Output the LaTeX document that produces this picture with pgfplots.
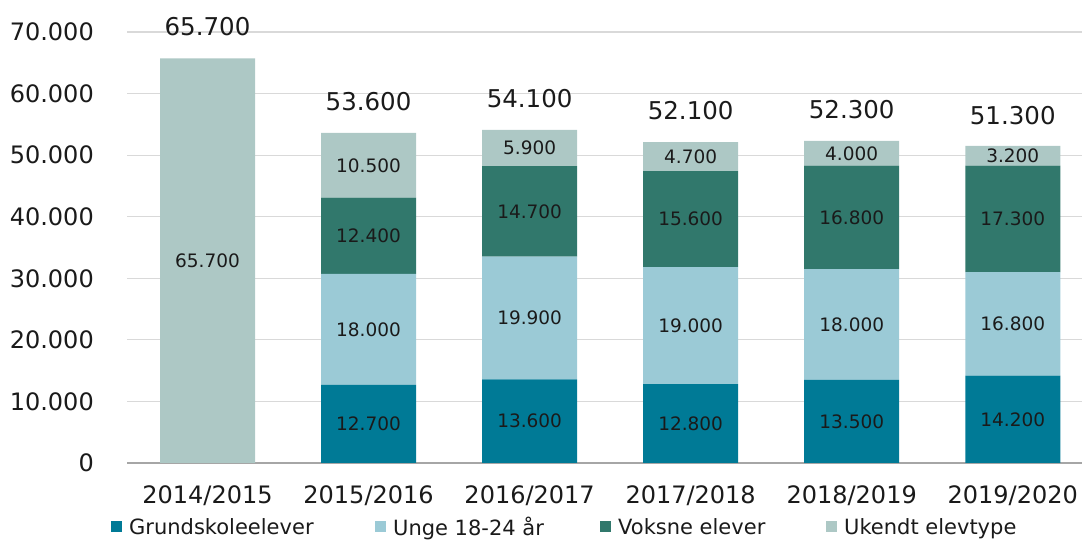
\documentclass[border=0pt]{standalone}
\usepackage{pgfplots}
\pgfplotsset{compat=1.18}
\usepackage{fontspec}
\setmainfont{DejaVu Sans}
\definecolor{cA}{HTML}{007A96}
\definecolor{cB}{HTML}{9BCAD6}
\definecolor{cC}{HTML}{31786C}
\definecolor{cD}{HTML}{ADC8C5}
\definecolor{gridc}{HTML}{D9D9D9}
\definecolor{axc}{HTML}{A6A6A6}
\definecolor{txt}{HTML}{1A1A1A}
% values in thousands
\pgfplotsset{
  common/.style={
    at={(127pt,77pt)}, anchor=south west,
    scale only axis, width=955pt, height=431pt,
    xmin=-0.5, xmax=5.43, ymin=0, ymax=70,
    enlargelimits=false, clip=false,
    /pgf/number format/assume math mode=true,
  },
  legimg/.style={legend image code/.code={\fill[#1] (0pt,-5.5pt) rectangle (11pt,5.5pt); \path (18pt,0pt);}},
}
\begin{document}
\begin{tikzpicture}
\useasboundingbox (0,0) rectangle (1082pt,540pt);
\begin{axis}[
  common,
  ybar stacked, bar width=95pt,
  xtick={0,1,2,3,4,5},
  xticklabels={2014/2015,2015/2016,2016/2017,2017/2018,2018/2019,2019/2020},
  ytick={0,10,20,30,40,50,60,70},
  yticklabels={0,10.000,20.000,30.000,40.000,50.000,60.000,70.000},
  major tick length=0pt,
  axis x line*=bottom, axis y line*=left,
  y axis line style={draw=none},
  x axis line style={draw=axc, line width=1.2pt, -},
  ymajorgrids, grid style={draw=gridc, line width=1.2pt},
  tick label style={font=\fontsize{24}{28}\selectfont, text=txt, inner sep=0pt},
  yticklabel shift=33pt,
  xticklabel shift=22pt,
  nodes near coords={\pgfmathfloatifflags{\pgfplotspointmeta}{0}{}{\pgfmathprintnumber[fixed,precision=3,zerofill]{\pgfplotspointmeta}}},
  every node near coord/.append style={font=\fontsize{18.5}{20}\selectfont, text=txt, inner sep=0pt, anchor=center},
  legend columns=4,
  legend style={at={(-0.0168,-0.1485)}, anchor=west, draw=none, fill=none, inner sep=0pt,
    font=\fontsize{21}{24}\selectfont, text=txt, nodes={inner sep=0pt}, /tikz/column sep=0pt},
]
\addplot[fill=cA, draw=none, legimg=cA]
  coordinates {(0,0) (1,12.7) (2,13.6) (3,12.8) (4,13.5) (5,14.2)};
\addplot[fill=cB, draw=none, legimg=cB]
  coordinates {(0,0) (1,18.0) (2,19.9) (3,19.0) (4,18.0) (5,16.8)};
\addplot[fill=cC, draw=none, legimg=cC]
  coordinates {(0,0) (1,12.4) (2,14.7) (3,15.6) (4,16.8) (5,17.3)};
\addplot[fill=cD, draw=none, legimg=cD]
  coordinates {(0,65.7) (1,10.5) (2,5.9) (3,4.7) (4,4.0) (5,3.2)};
\legend{\makebox[246pt][l]{Grundskoleelever},\makebox[207pt][l]{Unge 18-24 år},\makebox[208pt][l]{Voksne elever},Ukendt elevtype}
\end{axis}
\begin{axis}[common, hide axis]
\addplot[draw=none, mark=none, point meta=explicit symbolic,
  nodes near coords={\pgfplotspointmeta},
  every node near coord/.style={font=\fontsize{24.5}{28}\selectfont, text=txt, inner sep=0pt, anchor=south, yshift=22pt}]
  coordinates {(0,65.7)[65.700] (1,53.6)[53.600] (2,54.1)[54.100] (3,52.1)[52.100] (4,52.3)[52.300] (5,51.3)[51.300]};
\end{axis}
\end{tikzpicture}
\end{document}
